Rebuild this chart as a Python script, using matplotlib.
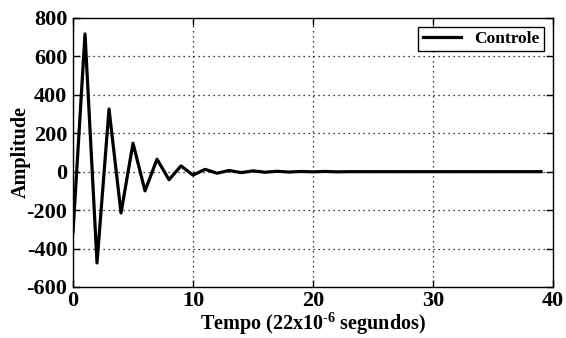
import matplotlib
matplotlib.use('Agg')
import matplotlib.pyplot as plt

### Data
tempo = list(range(0, 40))
amplitude = [-314, 717, -475, 326, -215, 148, -100, 65, -42, 30,
             -18, 12, -8, 6, -5, 4, -3, 2, -2, 1,
             -1, 1, -1, 0, 0, 0, 0, 0, 0, 0,
             0, 0, 0, 0, 0, 0, 0, 0, 0, 0]

xticks = [0, 10, 20, 30, 40]
yticks = [-600, -400, -200, 0, 200, 400, 600, 800]

plt.rcParams['font.family'] = 'Liberation Serif'
plt.rcParams['font.weight'] = 'bold'
plt.rcParams['axes.unicode_minus'] = False
plt.rcParams['mathtext.fontset'] = 'custom'
plt.rcParams['mathtext.rm'] = 'Liberation Serif:bold'
plt.rcParams['mathtext.bf'] = 'Liberation Serif:bold'
plt.rcParams['mathtext.default'] = 'rm'

fig = plt.figure(figsize=(5.66, 3.38), dpi=100)
ax = fig.add_axes([0.129, 0.151, 0.848, 0.796])

ax.plot(tempo, amplitude, color='black', linewidth=2.3, label='Controle')

ax.set_xlim(0, 40)
ax.set_ylim(-600, 800)
ax.set_xticks(xticks)
ax.set_yticks(yticks)
ax.tick_params(direction='in', length=5, width=1, top=True, right=True,
               labelsize=16)
ax.tick_params(axis='x', pad=3)
ax.tick_params(axis='y', pad=4)
for lab in ax.get_xticklabels() + ax.get_yticklabels():
    lab.set_fontweight('bold')

ax.grid(True, linestyle=(0, (1, 3)), color='black', linewidth=0.9)

ax.set_xlabel(r'Tempo (22x10$^{\text{-6}}$ segundos)', fontsize=14.5,
              fontweight='bold', labelpad=0)
ax.set_ylabel('Amplitude', fontsize=14.5, fontweight='bold', labelpad=-3)

leg = ax.legend(loc='upper right', fancybox=False, edgecolor='black',
                prop={'weight': 'bold', 'size': 12.5}, handlelength=2.2,
                borderpad=0.25, framealpha=1, borderaxespad=0.5)
leg.get_frame().set_linewidth(1.0)

for sp in ax.spines.values():
    sp.set_linewidth(1.0)

fig.savefig('out.png', dpi=100)
